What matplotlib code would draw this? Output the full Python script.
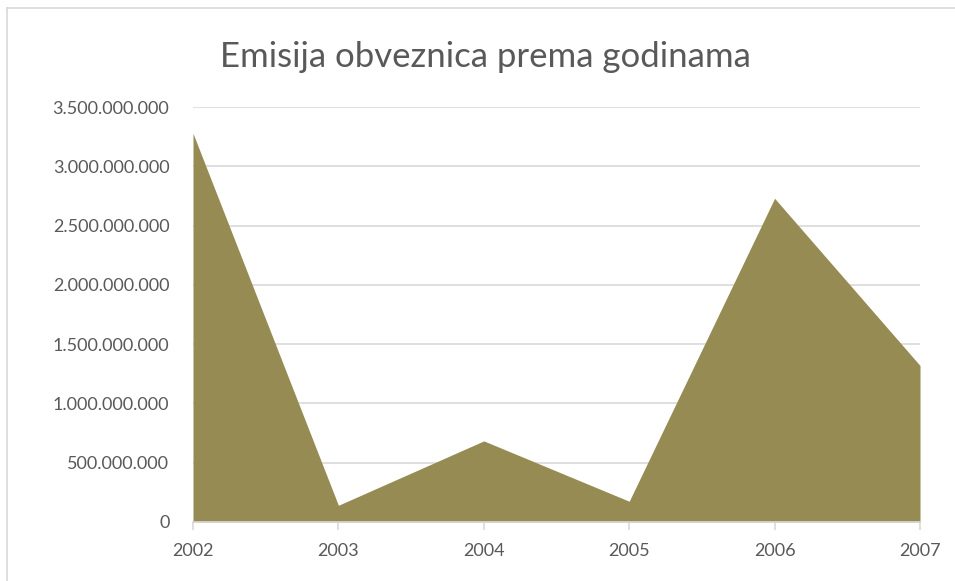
import matplotlib.pyplot as plt
from matplotlib.ticker import FuncFormatter, MultipleLocator
from matplotlib.lines import Line2D

# data
years = [2002, 2003, 2004, 2005, 2006, 2007]
emisija = [3.278e9, 0.141e9, 0.684e9, 0.175e9, 2.73e9, 1.32e9]

plt.rcParams['font.family'] = ['Lato', 'DejaVu Sans']
txt = '#595959'

fig = plt.figure(figsize=(9.55, 5.81), dpi=100)
ax = fig.add_axes([193/955, 59/581, (920-193)/955, (522-107)/581])

ax.fill_between(years, emisija, 0, color='#958B53', linewidth=0, zorder=2)

ax.set_xlim(2002, 2007)
ax.set_ylim(0, 3.5e9)
ax.yaxis.set_major_locator(MultipleLocator(5e8))
ax.yaxis.set_major_formatter(FuncFormatter(lambda v, p: f'{int(v):,}'.replace(',', '.')))
ax.set_xticks(years)

ax.grid(axis='y', color='#D9D9D9', linewidth=1.2, zorder=0)
for s in ['top', 'right', 'left']:
    ax.spines[s].set_visible(False)
ax.spines['bottom'].set_color('#D9D9D9')
ax.spines['bottom'].set_linewidth(1.2)
ax.tick_params(axis='y', length=0, labelsize=13, labelcolor=txt, pad=17)
ax.tick_params(axis='x', length=6, color='#D9D9D9', width=1.2, labelsize=13, labelcolor=txt, pad=9)

fig.text(0.5 + 8/955, 1 - 57/581, 'Emisija obveznica prema godinama', ha='center', va='center',
         fontsize=25, color=txt)

# chart border (runs off the right and bottom edges)
fig.add_artist(Line2D([7/955, 7/955], [0, 1 - 8/581], transform=fig.transFigure,
                      color='#D9D9D9', linewidth=1.2))
fig.add_artist(Line2D([7/955, 1], [1 - 8/581, 1 - 8/581], transform=fig.transFigure,
                      color='#D9D9D9', linewidth=1.2))

fig.savefig('out.png', dpi=100)
